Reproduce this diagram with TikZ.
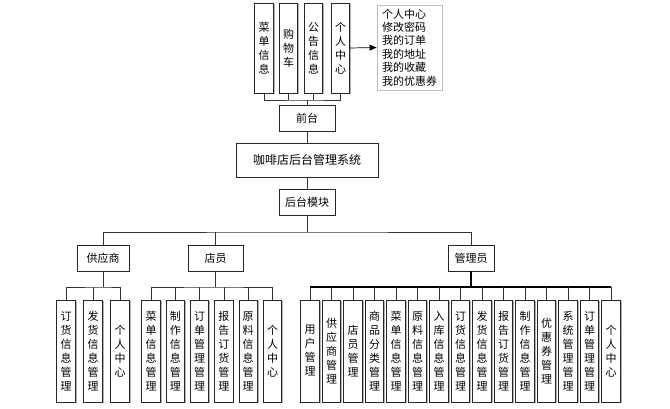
\documentclass[tikz,border=0pt]{standalone}
\usepackage{fontspec}
\newfontfamily\cjk{Noto Sans CJK SC}
\usetikzlibrary{shadows,arrows.meta}
\begin{document}
\begin{tikzpicture}[x=1pt,y=-1pt,
 box/.style={draw=black!85, line width=0.8pt, fill=white, inner sep=0pt,
   drop shadow={shadow xshift=1.3pt, shadow yshift=-1.3pt, fill=black!30, opacity=1},
   font=\cjk\fontsize{11}{13}\selectfont},
 vbox/.style={box, minimum width=18.5pt, minimum height=#1, align=center,
   font=\cjk\fontsize{11}{14}\selectfont},
 vbox/.default=102pt,
 hbox/.style={box, minimum width=#1, minimum height=26pt},
 conn/.style={draw=black!80, line width=0.7pt},
 thick conn/.style={draw=black, line width=1.4pt},
]
\useasboundingbox (0,0) rectangle (670,409);

% top row
\node[vbox=90pt] (t1) at (264,48) {菜\\单\\信\\息};
\node[vbox=90pt] (t2) at (288.5,48) {购\\物\\车};
\node[vbox=90pt] (t3) at (313.5,48) {公\\告\\信\\息};
\node[vbox=90pt] (t4) at (340.5,48) {个\\人\\中\\心};
\node[box, draw=black!25, minimum width=65pt, minimum height=85pt, align=left,
  font=\cjk\fontsize{11}{13.4}\selectfont] (pc) at (409.5,47.5)
  {个人中心\\修改密码\\我的订单\\我的地址\\我的收藏\\我的优惠券};
\draw[conn, black, -{Triangle[length=7pt,width=6pt]}] (t4.east) -- (pc.west);

\node[hbox=56pt] (qt) at (307,118) {前台};
\node[box, minimum width=142pt, minimum height=34pt, font=\cjk\fontsize{12}{14}\selectfont] (sys) at (307,160) {咖啡店后台管理系统};
\node[hbox=56pt] (ht) at (307,202) {后台模块};

\coordinate (tb) at (307,100);
\draw[conn] (t1.south) |- (tb) -| (t4.south);
\draw[conn] (t2.south) -- (t2.south |- tb);
\draw[conn] (t3.south) -- (t3.south |- tb);
\draw[conn] (tb) -- (qt.north);
\draw[conn] (qt.south) -- (sys.north);
\draw[conn] (sys.south) -- (ht.north);

% second level
\node[hbox=52pt] (gys) at (103,258) {供应商};
\node[hbox=55pt] (dy) at (215.5,258) {店员};
\node[hbox=46pt] (gly) at (471,258) {管理员};
\coordinate (mb) at (307,232);
\draw[conn] (ht.south) -- (mb);
\draw[conn] (gys.north) |- (mb) -| (gly.north);
\draw[conn] (dy.north) -- (dy.north |- mb);

% supplier children
\node[vbox] (s1) at (66,351) {订\\货\\信\\息\\管\\理};
\node[vbox] (s2) at (93,351) {发\\货\\信\\息\\管\\理};
\node[vbox] (s3) at (120,351) {个\\人\\中\\心};
\coordinate (sb) at (103,287);
\draw[conn] (gys.south) -- (sb);
\draw[conn] (s1.north) |- (sb) -| (s3.north);
\draw[conn] (s2.north) -- (s2.north |- sb);

% clerk children
\node[vbox] (d1) at (151,351) {菜\\单\\信\\息\\管\\理};
\node[vbox] (d2) at (175.3,351) {制\\作\\信\\息\\管\\理};
\node[vbox] (d3) at (199.6,351) {订\\单\\管\\理\\管\\理};
\node[vbox] (d4) at (223.9,351) {报\\告\\订\\货\\管\\理};
\node[vbox] (d5) at (248.2,351) {原\\料\\信\\息\\管\\理};
\node[vbox] (d6) at (272.5,351) {个\\人\\中\\心};
\coordinate (db) at (215.5,287);
\draw[conn] (dy.south) -- (db);
\draw[conn] (d1.north) |- (db) -| (d6.north);
\foreach \n in {d2,d3,d4,d5} \draw[conn] (\n.north) -- (\n.north |- db);

% admin children
\node[vbox] (a1) at (310,351) {用\\户\\管\\理};
\node[vbox] (a2) at (331.5,351) {供\\应\\商\\管\\理};
\node[vbox] (a3) at (353,351) {店\\员\\管\\理};
\node[vbox] (a4) at (374.5,351) {商\\品\\分\\类\\管\\理};
\node[vbox] (a5) at (396,351) {菜\\单\\信\\息\\管\\理};
\node[vbox] (a6) at (417.5,351) {原\\料\\信\\息\\管\\理};
\node[vbox] (a7) at (439,351) {入\\库\\信\\息\\管\\理};
\node[vbox] (a8) at (460.5,351) {订\\货\\信\\息\\管\\理};
\node[vbox] (a9) at (482,351) {发\\货\\信\\息\\管\\理};
\node[vbox] (a10) at (503.5,351) {报\\告\\订\\货\\管\\理};
\node[vbox] (a11) at (525,351) {制\\作\\信\\息\\管\\理};
\node[vbox] (a12) at (546.5,351) {优\\惠\\券\\管\\理};
\node[vbox] (a13) at (568,351) {系\\统\\管\\理\\管\\理};
\node[vbox] (a14) at (589.5,351) {订\\单\\管\\理\\管\\理};
\node[vbox] (a15) at (611,351) {个\\人\\中\\心};
\coordinate (ab) at (471,287);
\draw[thick conn] (gly.south) -- (ab);
\draw[conn] (a1.north) |- (ab) -| (a15.north);
\draw[thick conn] (a1.north |- ab) -- (a15.north |- ab);
\foreach \n in {a2,a3,a4,a5,a6,a7,a8,a9,a10,a11,a12,a13,a14} \draw[conn] (\n.north) -- (\n.north |- ab);
\end{tikzpicture}
\end{document}
